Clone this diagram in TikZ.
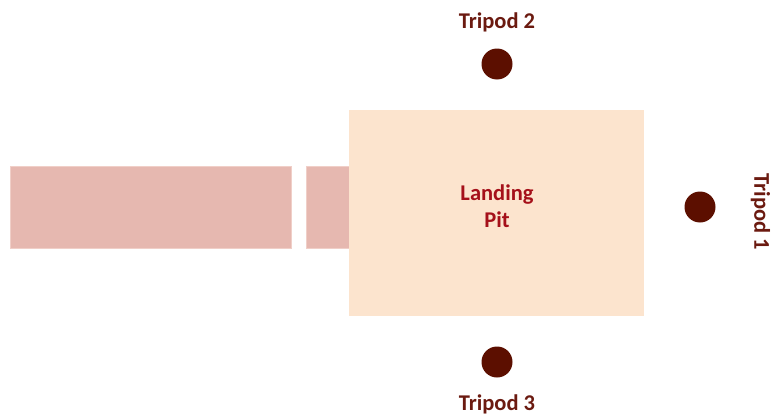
\documentclass[tikz,border=0pt]{standalone}
\usepackage{fontspec}
\setmainfont{Carlito}
\definecolor{runway}{HTML}{E6B8B0}
\definecolor{runedge}{HTML}{F0CFC8}
\definecolor{pit}{HTML}{FCE4CE}
\definecolor{tripod}{HTML}{5C0F00}
\definecolor{pittext}{HTML}{A5101A}
\definecolor{labtext}{HTML}{6B1A10}
\begin{document}
\begin{tikzpicture}[x=1pt,y=-1pt,
  runwaybox/.style={fill=runway,draw=runedge,line width=0.8pt},
  pitbox/.style={fill=pit,draw=none},
  tripoddot/.style={circle,fill=tripod,minimum size=31pt,inner sep=0pt},
  tripodlabel/.style={font=\fontsize{22.5}{26}\selectfont\bfseries,text=labtext,inner sep=1pt},
  pitlabel/.style={font=\fontsize{22.5}{27}\selectfont\bfseries,text=pittext,align=center}]
\useasboundingbox (0,0) rectangle (772,415);
\draw[runwaybox] (10,166) rectangle (291,248);
\draw[runwaybox] (306,166) rectangle (349,248);
\node[pitbox,minimum width=295pt,minimum height=206pt,inner sep=0pt] (pit) at (496.5,213) {};
\node[pitlabel] (pitlab) at (497,206) {Landing\\Pit};
\node[tripoddot] (t1) at (700,207) {};
\node[tripoddot] (t2) at (497,64) {};
\node[tripoddot] (t3) at (497,362) {};
\node[tripodlabel] (l2) at (497,22) {Tripod 2};
\node[tripodlabel] (l3) at (497,404) {Tripod 3};
\node[tripodlabel,rotate=-90] (l1) at (760.5,212) {Tripod 1};
\end{tikzpicture}
\end{document}
